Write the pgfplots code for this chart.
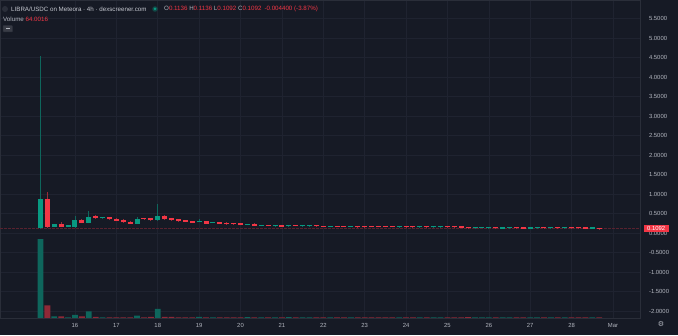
\documentclass[border=0pt]{standalone}
\usepackage{pgfplots}
\pgfplotsset{compat=1.18}
\usepackage{pgfplotstable}
\usepackage{fontspec}
\setmainfont{Liberation Sans}
\newfontfamily\dejavu{DejaVu Sans}
\definecolor{bg}{HTML}{161A25}
\definecolor{gridc}{HTML}{1F2330}
\definecolor{upc}{HTML}{089981}
\definecolor{dnc}{HTML}{F23645}
\definecolor{txt}{HTML}{B2B5BE}
\definecolor{hdr}{HTML}{C5C8D0}
\definecolor{frame}{HTML}{2A2E39}

% candle index k (4h candles, k=5 is Feb 16 00:00), open, high, low, close, volume
\pgfplotstableread{
k o h l c v
0 0.12 4.55 0.10 0.86 10100
2 0.16 0.22 0.15 0.22 218
4 0.165 0.18 0.155 0.175 90
5 0.15 0.44 0.14 0.33 384
7 0.26 0.56 0.25 0.41 858
9 0.385 0.40 0.37 0.395 90
14 0.24 0.42 0.23 0.37 294
17 0.33 0.74 0.32 0.44 1152
23 0.275 0.36 0.27 0.30 128
25 0.25 0.28 0.245 0.27 90
30 0.20 0.24 0.195 0.23 100
32 0.175 0.20 0.17 0.19 90
34 0.17 0.19 0.165 0.185 80
36 0.17 0.20 0.165 0.195 100
38 0.17 0.185 0.165 0.18 80
39 0.175 0.19 0.17 0.185 80
42 0.16 0.18 0.155 0.175 80
45 0.155 0.17 0.15 0.165 80
52 0.15 0.165 0.145 0.16 80
55 0.145 0.16 0.14 0.155 80
57 0.145 0.16 0.14 0.155 80
58 0.15 0.165 0.145 0.16 80
63 0.12 0.14 0.115 0.135 80
64 0.13 0.145 0.125 0.14 80
65 0.12 0.135 0.115 0.13 80
67 0.115 0.13 0.11 0.125 80
68 0.12 0.135 0.115 0.13 80
71 0.115 0.13 0.11 0.125 80
72 0.12 0.135 0.115 0.13 80
74 0.12 0.132 0.115 0.128 80
76 0.118 0.13 0.113 0.126 80
80 0.113 0.118 0.111 0.1136 80
}\up

\pgfplotstableread{
k o h l c v
1 0.86 1.05 0.14 0.16 1625
3 0.22 0.27 0.15 0.16 218
6 0.33 0.35 0.25 0.26 218
8 0.43 0.45 0.37 0.38 128
10 0.40 0.41 0.34 0.35 90
11 0.37 0.38 0.31 0.32 90
12 0.34 0.35 0.26 0.27 64
13 0.29 0.30 0.23 0.24 90
15 0.38 0.39 0.34 0.35 90
16 0.375 0.38 0.32 0.325 128
18 0.44 0.46 0.34 0.35 128
19 0.38 0.39 0.32 0.33 128
20 0.35 0.36 0.29 0.30 90
21 0.325 0.33 0.285 0.29 90
22 0.315 0.32 0.26 0.265 90
24 0.30 0.31 0.235 0.24 90
26 0.28 0.29 0.225 0.23 80
27 0.26 0.27 0.215 0.22 80
28 0.25 0.26 0.21 0.22 80
29 0.255 0.26 0.20 0.205 80
31 0.24 0.245 0.175 0.18 90
33 0.19 0.20 0.17 0.175 80
35 0.185 0.19 0.16 0.165 80
37 0.195 0.20 0.17 0.175 80
40 0.185 0.19 0.165 0.17 80
41 0.18 0.185 0.155 0.16 80
43 0.175 0.18 0.155 0.16 80
44 0.17 0.175 0.15 0.155 80
46 0.165 0.17 0.14 0.145 80
47 0.165 0.17 0.14 0.145 80
48 0.165 0.17 0.145 0.15 80
49 0.165 0.17 0.145 0.15 80
50 0.165 0.17 0.145 0.15 80
51 0.165 0.17 0.145 0.15 80
53 0.16 0.165 0.145 0.15 80
54 0.155 0.16 0.14 0.145 80
56 0.155 0.16 0.14 0.145 80
59 0.16 0.165 0.145 0.15 80
60 0.155 0.16 0.14 0.145 80
61 0.15 0.155 0.135 0.14 80
62 0.145 0.15 0.115 0.12 100
66 0.13 0.135 0.115 0.12 80
69 0.13 0.135 0.115 0.12 80
70 0.125 0.13 0.11 0.115 80
73 0.13 0.135 0.115 0.12 80
75 0.128 0.13 0.113 0.118 80
77 0.128 0.13 0.115 0.12 80
78 0.12 0.122 0.113 0.116 80
79 0.117 0.118 0.111 0.113 80
81 0.1136 0.1136 0.1092 0.1092 64
}\down

\begin{document}
\begin{tikzpicture}[x=1pt,y=1pt]
\useasboundingbox (0,0) rectangle (678,335);
\fill[bg] (0,0) rectangle (678,335);
\begin{axis}[
  at={(0pt,17pt)}, anchor=south west, scale only axis,
  width=640pt, height=318pt,
  xmin=-5.872, xmax=86.92, ymin=-2.179, ymax=5.974,
  axis line style={draw=frame},
  xtick={5,11,...,83},
  xticklabels={16,17,18,19,20,21,22,23,24,25,26,27,28,Mar},
  ytick={-2,-1.5,...,5.5},
  yticklabel pos=right,
  major tick length=0pt,
  grid=major,
  major grid style={draw=gridc, line width=0.6pt},
  tick label style={font=\fontsize{5.9}{6}\selectfont, text=txt},
  xticklabel style={yshift=-2pt},
  yticklabel style={anchor=west, xshift=5.5pt,
    /pgf/number format/fixed, /pgf/number format/fixed zerofill,
    /pgf/number format/precision=4, /pgf/number format/assume math mode=true},
  extra y ticks={0.1092},
  extra y tick style={grid=major,
    major grid style={draw=dnc!30!bg, line width=0.6pt, dash pattern=on 2.5pt off 1.5pt},
    yticklabel style={fill=dnc, text=white, inner xsep=3.5pt, inner ysep=1.3pt, xshift=-2pt}},
]
% wicks
\addplot[draw=none, mark=none, error bars/.cd, y dir=plus, y explicit, error mark=none,
  error bar style={line width=0.9pt, draw=upc!60!bg}]
  table[x=k, y=l, y error plus expr=\thisrow{h}-\thisrow{l}]{\up};
\addplot[draw=none, mark=none, error bars/.cd, y dir=plus, y explicit, error mark=none,
  error bar style={line width=0.9pt, draw=dnc!60!bg}]
  table[x=k, y=l, y error plus expr=\thisrow{h}-\thisrow{l}]{\down};
% bodies
\addplot[draw=none, mark=none, error bars/.cd, y dir=plus, y explicit, error mark=none,
  error bar style={line width=5pt, draw=upc}]
  table[x=k, y=o, y error plus expr={max(\thisrow{c}-\thisrow{o},0.03)}]{\up};
\addplot[draw=none, mark=none, error bars/.cd, y dir=plus, y explicit, error mark=none,
  error bar style={line width=5pt, draw=dnc}]
  table[x=k, y=c, y error plus expr={max(\thisrow{o}-\thisrow{c},0.03)}]{\down};
\end{axis}
\begin{axis}[
  at={(0pt,17pt)}, anchor=south west, scale only axis,
  width=640pt, height=318pt,
  xmin=-5.872, xmax=86.92, ymin=0, ymax=40704,
  hide axis, ybar, bar width=5.8pt,
]
\addplot[bar shift=0pt, fill=upc!60!bg, draw=none] table[x=k, y=v]{\up};
\addplot[bar shift=0pt, fill=dnc!55!bg, draw=none] table[x=k, y=v]{\down};
\end{axis}
% header
\fill[frame] (5,326) circle (3);
\node[anchor=west, inner sep=0, text=hdr, font=\fontsize{6.2}{7}\selectfont] at (11,326)
  {LIBRA/USDC on Meteora · 4h · dexscreener.com};
\fill[upc, opacity=0.35] (155,326) circle (2.8);
\fill[upc] (155,326) circle (1.5);
\node[anchor=west, inner sep=0, font=\fontsize{6.2}{7}\selectfont] at (164,326)
  {\color{txt}O\color{dnc}0.1136 \color{txt}H\color{dnc}0.1136 \color{txt}L\color{dnc}0.1092 \color{txt}C\color{dnc}0.1092 $\,$-0.004400 (-3.87\%)};
\node[anchor=west, inner sep=0, font=\fontsize{6.2}{7}\selectfont] at (3,316)
  {\color{txt}Volume \color{dnc}64.0016};
\draw[frame, fill=bg!85!white, line width=0.5pt, rounded corners=0.8pt] (3,303) rectangle (12.5,309.5);
\draw[txt, line width=0.6pt] (6,306.2) -- (9.5,306.2);
\node[text=txt, font=\dejavu\fontsize{7}{7}\selectfont, inner sep=0] at (661,11) {⚙};
\end{tikzpicture}
\end{document}
